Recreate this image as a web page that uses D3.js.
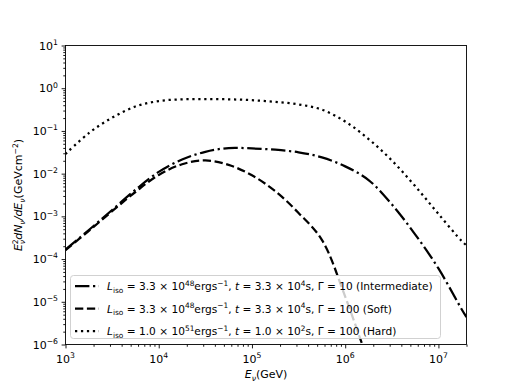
<!DOCTYPE html>
<html><head><meta charset="utf-8">
<script src="https://cdn.jsdelivr.net/npm/d3@7"></script>
<style>body{margin:0;background:#fff}text{font-family:"DejaVu Sans",sans-serif;fill:#000}</style>
</head><body><svg id="c" width="518" height="388"></svg>
<script>
// ---- data (E in GeV, E^2 dN/dE in GeV cm^-2) ----
const energies = [1e3, 1.78e3, 3.16e3, 5.62e3, 1e4, 1.78e4, 3.16e4, 5.62e4, 1e5, 1.78e5, 3.16e5, 5.62e5, 1e6, 1.78e6, 3.16e6, 5.62e6, 1e7, 1.78e7, 2e7];
const intermediate = [1.66e-4, 4.79e-4, 1.41e-3, 4.17e-3, 0.0110, 0.0214, 0.0324, 0.0398, 0.0389, 0.0363, 0.0316, 0.0240, 0.0148, 0.00708, 0.00191, 3.80e-4, 6.03e-5, 6.61e-6, 4.37e-6];
const soft = [1.62e-4, 4.57e-4, 1.32e-3, 3.72e-3, 9.33e-3, 0.0166, 0.0204, 0.0160, 9.12e-3, 3.89e-3, 1.20e-3, 2.82e-4, 1.32e-5, 3.7e-7, null, null, null, null, null];
const hard = [0.0288, 0.0891, 0.204, 0.372, 0.501, 0.550, 0.556, 0.550, 0.525, 0.479, 0.417, 0.316, 0.166, 0.0646, 0.0204, 0.00513, 0.00114, 2.63e-4, 2.09e-4];
const xTickExps = [3, 4, 5, 6, 7];
const yTickExps = [-6, -5, -4, -3, -2, -1, 0, 1];
const seriesNames = ["intermediate", "soft", "hard"];

const svg = d3.select("#c");
const L = 65.5, R = 466.5, T = 45.5, B = 344.5;
const x = d3.scaleLog().domain([1e3, 2e7]).range([L, R]);
const y = d3.scaleLog().domain([1e-6, 1e1]).range([B, T]);

const lw = 2.25;
const styles = {
  intermediate: "14.4,3.6,2.25,3.6",
  soft: "8.3,3.6",
  hard: "2.25,3.7"
};
const seriesData = {intermediate, soft, hard};

svg.append("defs").append("clipPath").attr("id","clip")
  .append("rect").attr("x",L).attr("y",T).attr("width",R-L).attr("height",B-T);

const line = d3.line().defined(d => d.v != null).x(d => x(d.e)).y(d => y(d.v)).curve(d3.curveCatmullRom.alpha(0.5));
const g = svg.append("g").attr("clip-path","url(#clip)");
seriesNames.forEach(n => {
  const pts = energies.map((e,i) => ({e, v: seriesData[n][i]}));
  g.append("path").attr("d", line(pts)).attr("fill","none").attr("stroke","#000")
    .attr("stroke-width", lw).attr("stroke-dasharray", styles[n]);
});

// minor tick values
const minorX = [], minorY = [];
for (let p = 3; p <= 7; p++) for (let k = 2; k <= 9; k++) { const v = k * Math.pow(10,p); if (v <= 2e7) minorX.push(v); }
for (let p = -6; p <= 0; p++) for (let k = 2; k <= 9; k++) minorY.push(k * Math.pow(10,p));

const ax = svg.append("g");
function drawAxis(gen, tr) {
  const a = ax.append("g").attr("transform", tr).call(gen);
  a.select(".domain").remove();
  a.selectAll("line").attr("stroke","#000").attr("stroke-width",0.9);
  a.selectAll("text").remove();
}
drawAxis(d3.axisBottom(x).tickValues(xTickExps.map(p=>Math.pow(10,p))).tickSize(3.9).tickFormat(""), `translate(0,${B})`);
drawAxis(d3.axisBottom(x).tickValues(minorX).tickSize(2.25).tickFormat(""), `translate(0,${B})`);
drawAxis(d3.axisLeft(y).tickValues(yTickExps.map(p=>Math.pow(10,p))).tickSize(3.9).tickFormat(""), `translate(${L},0)`);
drawAxis(d3.axisLeft(y).tickValues(minorY).tickSize(2.25).tickFormat(""), `translate(${L},0)`);

// frame
svg.append("rect").attr("x",L).attr("y",T).attr("width",R-L).attr("height",B-T)
  .attr("fill","none").attr("stroke","#000").attr("stroke-width",0.9);

const fs = 11;
function sup(t, base, exp) {
  t.append("tspan").text(base);
  t.append("tspan").attr("dy", -0.42*fs).attr("font-size", fs*0.7).text(exp);
}
xTickExps.forEach(p => {
  const t = svg.append("text").attr("x", x(Math.pow(10,p))).attr("y", B + 18).attr("font-size", fs).attr("text-anchor","middle");
  sup(t, "10", p < 0 ? "\u2212" + (-p) : String(p));
});
yTickExps.forEach(p => {
  const t = svg.append("text").attr("x", L - 7.5).attr("y", y(Math.pow(10,p)) + 4).attr("font-size", fs).attr("text-anchor","end");
  sup(t, "10", p < 0 ? "\u2212" + (-p) : String(p));
});

// axis labels
const xl = svg.append("text").attr("x", (L+R)/2).attr("y", 378).attr("font-size", fs).attr("text-anchor","middle");
xl.append("tspan").attr("font-style","italic").text("E");
xl.append("tspan").attr("font-style","italic").attr("font-size", fs*0.7).attr("dy", 2.5).text("\u03bd");
xl.append("tspan").attr("dy", -2.5).text("(GeV)");

const yl = svg.append("text").attr("transform", `translate(22,${(T+B)/2}) rotate(-90)`).attr("font-size", fs).attr("text-anchor","middle");
yl.append("tspan").attr("font-style","italic").text("E");
yl.append("tspan").attr("font-size", fs*0.7).attr("dy", -4.5).text("2");
yl.append("tspan").attr("font-style","italic").attr("font-size", fs*0.7).attr("dx", -4.9).attr("dy", 7).text("\u03bd");
yl.append("tspan").attr("font-style","italic").attr("dy", -2.5).text("dN");
yl.append("tspan").attr("font-style","italic").attr("font-size", fs*0.7).attr("dy", 2.5).text("\u03bd");
yl.append("tspan").attr("font-style","italic").attr("dy", -2.5).text("/dE");
yl.append("tspan").attr("font-style","italic").attr("font-size", fs*0.7).attr("dy", 2.5).text("\u03bd");
yl.append("tspan").attr("dy", -2.5).text("(GeVcm");
yl.append("tspan").attr("font-size", fs*0.7).attr("dy", -4.5).text("\u22122");
yl.append("tspan").attr("dy", 4.5).text(")");

// legend
const legendRows = [
  {name:"intermediate", lum:"3.3", lexp:"48", t:"3.3", texp:"4", gam:"10", tag:"(Intermediate)"},
  {name:"soft", lum:"3.3", lexp:"48", t:"3.3", texp:"4", gam:"100", tag:"(Soft)"},
  {name:"hard", lum:"1.0", lexp:"51", t:"1.0", texp:"2", gam:"100", tag:"(Hard)"}
];
const lfs = 10.6;
const lg = svg.append("g");
lg.append("rect").attr("x",70.5).attr("y",275.5).attr("width",370).attr("height",63).attr("rx",3)
  .attr("fill","rgba(255,255,255,0.8)").attr("stroke","#cccccc").attr("stroke-width",0.9);
const rowY = [286, 308.5, 331];
legendRows.forEach((r,i) => {
  const yy = rowY[i];
  lg.append("line").attr("x1",75).attr("x2",99).attr("y1",yy).attr("y2",yy)
    .attr("stroke","#000").attr("stroke-width",lw).attr("stroke-dasharray",styles[r.name]);
  const t = lg.append("text").attr("x",107).attr("y",yy+4).attr("font-size",lfs);
  t.append("tspan").attr("font-style","italic").text("L");
  t.append("tspan").attr("font-size",lfs*0.7).attr("dy",2.5).text("iso");
  t.append("tspan").attr("dy",-2.5).text(" = " + r.lum + " \u00d7 10");
  t.append("tspan").attr("font-size",lfs*0.7).attr("dy",-4.5).text(r.lexp);
  t.append("tspan").attr("dy",4.5).text("ergs");
  t.append("tspan").attr("font-size",lfs*0.7).attr("dy",-4.5).text("\u22121");
  t.append("tspan").attr("dy",4.5).text(", ");
  t.append("tspan").attr("font-style","italic").text("t");
  t.append("tspan").text(" = " + r.t + " \u00d7 10");
  t.append("tspan").attr("font-size",lfs*0.7).attr("dy",-4.5).text(r.texp);
  t.append("tspan").attr("dy",4.5).text("s, \u0393 = " + r.gam + " " + r.tag);
});
</script></body></html>
